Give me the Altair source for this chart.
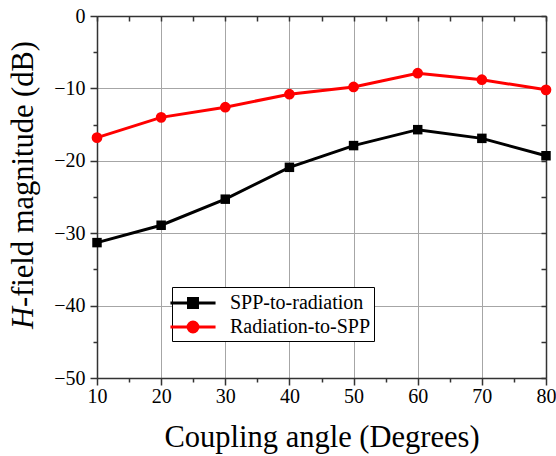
import altair as alt
import pandas as pd

angles = [10, 20, 30, 40, 50, 60, 70, 80]
spp_to_radiation = [-31.3, -28.9, -25.3, -20.9, -17.9, -15.7, -16.9, -19.3]
radiation_to_spp = [-16.8, -14.0, -12.6, -10.8, -9.8, -7.9, -8.8, -10.2]
series_names = ["SPP-to-radiation", "Radiation-to-SPP"]
series_colors = ["#000000", "#ff0000"]
x_major = [10, 20, 30, 40, 50, 60, 70, 80]
x_minor = [15, 25, 35, 45, 55, 65, 75]
y_major = [-50, -40, -30, -20, -10, 0]
y_minor = [-45, -35, -25, -15, -5]

rows = []
for a, v in zip(angles, spp_to_radiation):
    rows.append({"angle": a, "value": v, "series": series_names[0]})
for a, v in zip(angles, radiation_to_spp):
    rows.append({"angle": a, "value": v, "series": series_names[1]})
df = pd.DataFrame(rows)

W, H = 449, 362
FONT = "Liberation Serif"
AX = "#333333"

xs = alt.Scale(domain=[10, 80], nice=False, zero=False)
ys = alt.Scale(domain=[-50, 0], nice=False, zero=False)
cscale = alt.Scale(domain=series_names, range=series_colors)

legend_paths = [
    "M-1.96,0H1.96M-0.39,-0.39H0.39V0.39H-0.39Z",
    "M-1.96,0H1.96M0.43,0A0.43,0.43,0,1,1,-0.43,0A0.43,0.43,0,1,1,0.43,0Z",
]

base = alt.Chart(df)

legend_def = alt.Legend(
    title=None, orient="none", legendX=75, legendY=271,
    direction="vertical", strokeColor="#000000", fillColor="#ffffff",
    padding=3, rowPadding=0, symbolSize=529, symbolStrokeWidth=3,
    symbolOffset=5, labelOffset=24, symbolOpacity=1,
    labelFont=FONT, labelFontSize=20, labelColor="#000000",
    labelBaseline="middle", labelLimit=300,
)

label_axis_common = dict(
    labelFont=FONT, labelFontSize=20, labelColor="#000000",
    labelFontStyle="normal", labelFontWeight="normal",
)

dummy = base.mark_point(opacity=0, strokeWidth=3).encode(
    x=alt.X("angle:Q", scale=xs, axis=alt.Axis(
        orient="bottom", values=x_major, tickSize=7, labelPadding=1, labelFlush=False,
        grid=True, gridColor="#a6a6a6", gridWidth=1,
        domain=True, domainColor=AX, domainWidth=1.5, tickColor=AX, tickWidth=1.5,
        title="Coupling angle (Degrees)", titleFont=FONT, titleFontSize=30.5,
        titleFontWeight="normal", titleColor="#000000", titlePadding=16,
        **label_axis_common)),
    y=alt.Y("value:Q", scale=ys, axis=alt.Axis(
        orient="left", values=y_major, tickSize=7, labelPadding=5, labelFlush=False,
        grid=True, gridColor="#a6a6a6", gridWidth=1,
        domain=True, domainColor=AX, domainWidth=1.5, tickColor=AX, tickWidth=1.5,
        title=None, **label_axis_common)),
    fill=alt.Fill("series:N", scale=cscale, legend=legend_def, sort=series_names),
    stroke=alt.Stroke("series:N", scale=cscale, legend=legend_def, sort=series_names),
    shape=alt.Shape("series:N", scale=alt.Scale(domain=series_names, range=legend_paths),
                    legend=legend_def, sort=series_names),
)

lines = base.mark_line(strokeWidth=3).encode(
    x=alt.X("angle:Q", scale=xs, axis=alt.Axis(
        orient="bottom", values=x_minor, tickSize=4, labels=False, grid=False,
        domain=False, tickColor=AX, tickWidth=1.5, title=None)),
    y=alt.Y("value:Q", scale=ys, axis=alt.Axis(
        orient="left", values=y_minor, tickSize=4, labels=False, grid=False,
        domain=False, tickColor=AX, tickWidth=1.5, title=None)),
    color=alt.Color("series:N", scale=cscale, legend=None),
    detail="series:N",
)

black_pts = base.transform_filter(
    alt.datum.series == series_names[0]
).mark_point(filled=True, opacity=1, shape="square", size=90, color=series_colors[0]).encode(
    x=alt.X("angle:Q", scale=xs, axis=alt.Axis(
        orient="bottom", offset=-H, values=x_major + x_minor, tickSize=5,
        labels=False, grid=False, domain=True, domainColor=AX, domainWidth=1.5,
        tickColor=AX, tickWidth=1.5, title=None)),
    y=alt.Y("value:Q", scale=ys, axis=alt.Axis(
        orient="left", offset=-W, values=y_major + y_minor, tickSize=5,
        labels=False, grid=False, domain=True, domainColor=AX, domainWidth=1.5,
        tickColor=AX, tickWidth=1.5, title=None)),
)

red_pts = base.transform_filter(
    alt.datum.series == series_names[1]
).mark_point(filled=True, opacity=1, shape="circle", size=115, color=series_colors[1]).encode(
    x=alt.X("angle:Q", scale=xs, axis=None),
    y=alt.Y("value:Q", scale=ys, axis=None),
)

title_h = alt.Chart(pd.DataFrame({"t": ["H"]})).mark_text(
    angle=270, align="right", baseline="alphabetic", font=FONT, fontSize=30.5,
    fontStyle="italic", color="#000000").encode(
    text="t:N", x=alt.value(-64), y=alt.value(291))

title_rest = alt.Chart(pd.DataFrame({"t": ["-field magnitude (dB)"]})).mark_text(
    angle=270, align="left", baseline="alphabetic", font=FONT, fontSize=30.5,
    color="#000000").encode(
    text="t:N", x=alt.value(-64), y=alt.value(291))

chart = alt.layer(dummy, lines, black_pts, red_pts, title_h, title_rest).resolve_axis(
    x="independent", y="independent"
).resolve_scale(x="shared", y="shared").properties(
    width=W, height=H,
    autosize=alt.AutoSizeParams(type="none"),
    padding={"left": 97, "top": 16, "right": 10, "bottom": 78},
).configure_view(stroke=None).configure_axis(
    labelFont=FONT, titleFont=FONT
).configure_legend(labelFont=FONT).configure(background="#ffffff", font=FONT)

chart.save("out.html", embed_options={"renderer": "svg", "actions": False})
